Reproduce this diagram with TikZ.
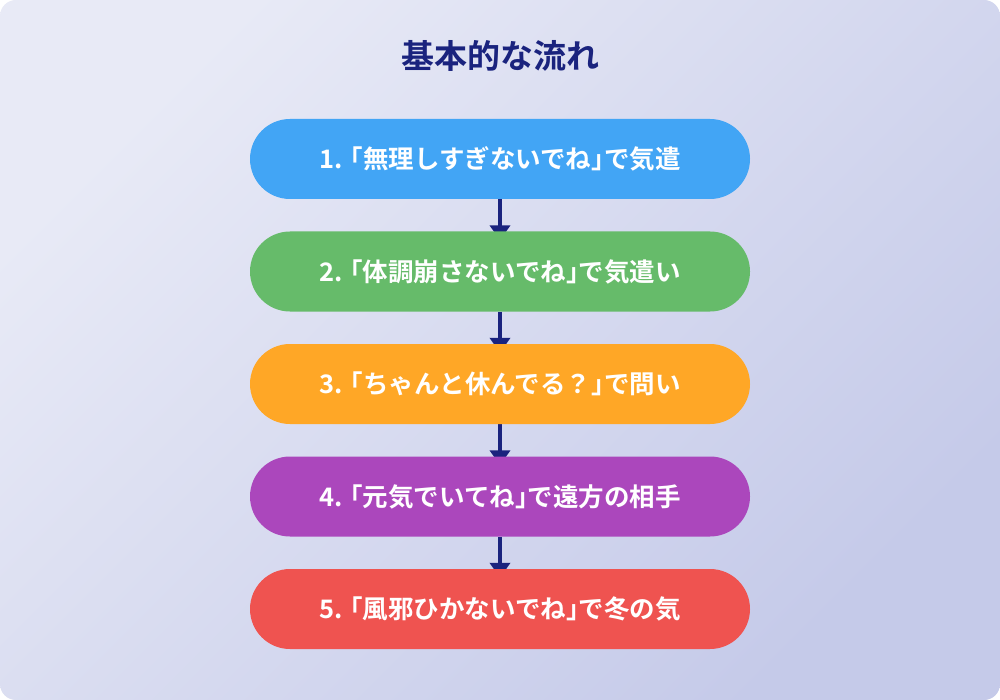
\documentclass[tikz,border=0pt]{standalone}
\usepackage{fontspec}
\newfontfamily\jpb{Noto Sans CJK JP Bold}
\newfontfamily\jph[RawFeature=+halt]{Noto Sans CJK JP Bold}
\newcommand{\lbr}{{\jph 「}}
\newcommand{\rbr}{{\jph 」}}
\usetikzlibrary{arrows.meta}
\definecolor{bgA}{HTML}{E8EAF6}
\definecolor{bgB}{HTML}{C5CAE9}
\definecolor{navy}{HTML}{1A237E}
\definecolor{cA}{HTML}{42A5F5}
\definecolor{cB}{HTML}{66BB6A}
\definecolor{cC}{HTML}{FFA726}
\definecolor{cD}{HTML}{AB47BC}
\definecolor{cE}{HTML}{EF5350}
\pgfdeclarelayer{back}
\pgfdeclarelayer{mid}
\pgfsetlayers{back,mid,main}
\tikzset{
  stepbox/.style={rectangle, rounded corners=40pt, minimum width=500pt, minimum height=80pt, inner sep=0pt, text=white, font=\jpb\fontsize{25.5}{30}\selectfont},
  flowarrow/.style={draw=navy, line width=4pt, -{Triangle[width=20pt,length=15pt]}}
}
\begin{document}
\begin{tikzpicture}[x=1pt,y=-1pt]
\useasboundingbox (0,0) rectangle (1000,700);
\begin{pgfonlayer}{back}
\fill[white] (0,0) rectangle (1000,700);
\shade[rounded corners=16pt, top color=bgA, bottom color=bgB, shading angle=45] (0,0) rectangle (1000,700);
\end{pgfonlayer}
\node[text=navy, font=\jpb\fontsize{33}{38}\selectfont] (title) at (500,56) {基本的な流れ};
\node[stepbox, fill=cA] (s1) at (500,159) {1. \lbr 無理しすぎないでね\rbr で気遣};
\node[stepbox, fill=cB] (s2) at (500,271.5) {2. \lbr 体調崩さないでね\rbr で気遣い};
\node[stepbox, fill=cC] (s3) at (500,384) {3. \lbr ちゃんと休んでる？\rbr で問い};
\node[stepbox, fill=cD] (s4) at (500,496.5) {4. \lbr 元気でいてね\rbr で遠方の相手};
\node[stepbox, fill=cE] (s5) at (500,609) {5. \lbr 風邪ひかないでね\rbr で冬の気};
\begin{pgfonlayer}{mid}
\foreach \a/\b in {s1/s2,s2/s3,s3/s4,s4/s5}{
  \draw[flowarrow] (\a.south) -- ([yshift=-9pt]\b.north);
}
\end{pgfonlayer}
\end{tikzpicture}
\end{document}
